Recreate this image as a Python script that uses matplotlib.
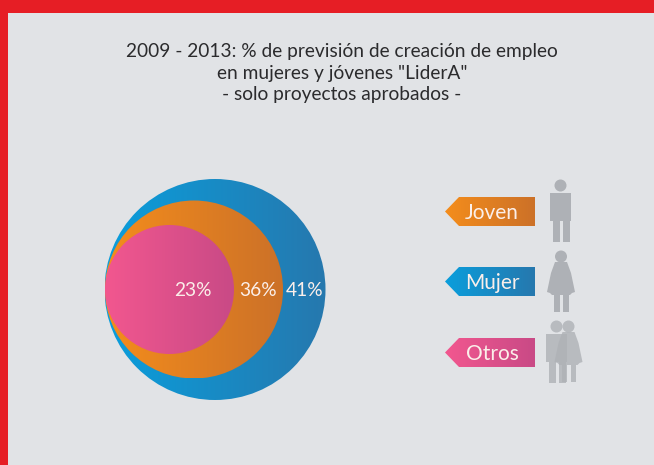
import numpy as np
import matplotlib
matplotlib.use('Agg')
import matplotlib.pyplot as plt
from matplotlib.colors import LinearSegmentedColormap
from matplotlib.patches import Circle, Polygon, Rectangle

plt.rcParams['font.family'] = ['Lato', 'DejaVu Sans']

titulo = ['2009 - 2013: % de previsión de creación de empleo',
          'en mujeres y jóvenes "LiderA"',
          '- solo proyectos aprobados -']

# categorias de mayor a menor, el circulo mas grande va primero
categorias = ['Mujer', 'Joven', 'Otros']
valores = [41, 36, 23]

# colores (izquierda, derecha) de cada degradado
colores = {'Mujer': ('#0A9EDC', '#2678AE'),
           'Joven': ('#F48D1C', '#CC7128'),
           'Otros': ('#F2578F', '#C94A86')}

# radios medidos en pixeles, el dibujo no es proporcional a los valores
radios = [110.5, 89, 64.5]
centros_x = [215, 194, 169.5]
centro_y = 289.5
etiquetas_x = [305, 258, 193]

fig = plt.figure(figsize=(6.54, 4.65), dpi=100, facecolor='#E1E3E6')
ax = fig.add_axes([0, 0, 1, 1])
ax.axis('off')


def degradado(parche, izq, der, zorder):
    # pinta un degradado horizontal recortado con la forma del parche
    ax.add_patch(parche)
    parche.set_visible(False)
    x0, y0, x1, y1 = parche.get_path().transformed(parche.get_patch_transform()).get_extents().extents
    cmap = LinearSegmentedColormap.from_list('g', [izq, der])
    im = ax.imshow(np.linspace(0, 1, 256).reshape(1, -1), cmap=cmap, aspect='auto',
                   extent=(x0, x1, y1, y0), zorder=zorder, interpolation='bilinear')
    im.set_clip_path(parche.get_path(), parche.get_patch_transform() + ax.transData)


# circulos anidados
for i, cat in enumerate(categorias):
    c = Circle((centros_x[i], centro_y), radios[i])
    degradado(c, colores[cat][0], colores[cat][1], 2 + i)
    ax.text(etiquetas_x[i], centro_y + 1, f'{valores[i]}%', color='#FBEFEA', fontsize=13.8,
            ha='center', va='center', zorder=10)

# titulo
for linea, y in zip(titulo, [51.5, 73, 94.5]):
    ax.text(342, y, linea, color='#2B2B2D', fontsize=13.8, ha='center', va='center')

# leyenda con flechas
orden = ['Joven', 'Mujer', 'Otros']
leyenda_y = [211.5, 281.5, 352.5]
for cat, y in zip(orden, leyenda_y):
    puntos = [(445, y), (459, y - 14.5), (535, y - 14.5), (535, y + 14.5), (459, y + 14.5)]
    degradado(Polygon(puntos, closed=True), colores[cat][0], colores[cat][1], 3)
    ax.text(492, y + 1.5, cat, color='#FBEFEA', fontsize=15, ha='center', va='center', zorder=10)

gris = '#AEB1B6'


def hombre(cx, y, alpha=1.0):
    ax.add_patch(Circle((cx, y + 5.5), 6, fc=gris, alpha=alpha, lw=0))
    ax.add_patch(Rectangle((cx - 10.5, y + 13), 21, 28, fc=gris, alpha=alpha, lw=0))
    ax.add_patch(Rectangle((cx - 7.5, y + 41), 7, 21, fc=gris, alpha=alpha, lw=0))
    ax.add_patch(Rectangle((cx + 2, y + 41), 7, 21, fc=gris, alpha=alpha, lw=0))


def mujer(cx, y, alpha=1.0):
    ax.add_patch(Circle((cx, y + 5.5), 6, fc=gris, alpha=alpha, lw=0))
    vestido = [(cx - 6, y + 11), (cx + 6, y + 11), (cx + 10, y + 22), (cx + 14, y + 41),
               (cx + 11, y + 42), (cx + 9, y + 44), (cx - 9, y + 44), (cx - 11, y + 42), (cx - 14, y + 41),
               (cx - 10, y + 22)]
    ax.add_patch(Polygon(vestido, closed=True, fc=gris, alpha=alpha, lw=0))
    ax.add_patch(Rectangle((cx - 7, y + 44), 5.5, 17, fc=gris, alpha=alpha, lw=0))
    ax.add_patch(Rectangle((cx + 2, y + 44), 5.5, 17, fc=gris, alpha=alpha, lw=0))


hombre(560.5, 180)
mujer(561, 251)
hombre(556.5, 321, alpha=0.8)
mujer(568.5, 321, alpha=0.8)

# marco rojo
ax.add_patch(Rectangle((0, 0), 654, 13, fc='#E61E25', lw=0, zorder=20))
ax.add_patch(Rectangle((0, 0), 8, 465, fc='#E61E25', lw=0, zorder=20))

ax.set_xlim(0, 654)
ax.set_ylim(465, 0)
fig.savefig('out.png', dpi=100, facecolor=fig.get_facecolor())
